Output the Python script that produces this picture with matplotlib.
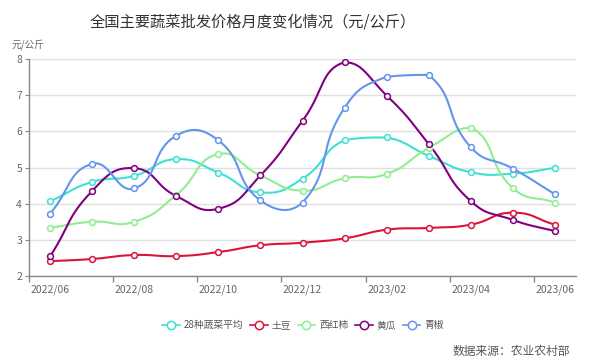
import numpy as np
import matplotlib
matplotlib.use("Agg")
import matplotlib.pyplot as plt
from matplotlib.lines import Line2D

plt.rcParams['font.family'] = ['Noto Sans CJK SC', 'DejaVu Sans']

months = ["2022/06", "2022/07", "2022/08", "2022/09", "2022/10", "2022/11", "2022/12",
          "2023/01", "2023/02", "2023/03", "2023/04", "2023/05", "2023/06"]
avg28 = [4.06, 4.60, 4.77, 5.23, 4.86, 4.31, 4.69, 5.76, 5.83, 5.32, 4.87, 4.83, 4.99]
potato = [2.41, 2.47, 2.58, 2.55, 2.66, 2.85, 2.92, 3.04, 3.28, 3.33, 3.42, 3.75, 3.42]
tomato = [3.33, 3.50, 3.50, 4.24, 5.37, 4.78, 4.36, 4.70, 4.82, 5.54, 6.10, 4.43, 4.03]
cucumber = [2.54, 4.35, 4.98, 4.21, 3.86, 4.78, 6.29, 7.91, 6.99, 5.65, 4.07, 3.55, 3.24]
pepper = [3.72, 5.10, 4.42, 5.88, 5.75, 4.09, 4.03, 6.65, 7.51, 7.56, 5.56, 4.97, 4.26]

series_names = ["28种蔬菜平均", "土豆", "西红柿", "黄瓜", "青椒"]
series_vals = [avg28, potato, tomato, cucumber, pepper]
colors = ["#40E0D0", "#DC143C", "#90EE90", "#800080", "#6495ED"]


def smooth_curve(xs, ys, sx=42.0, sy=36.2, smooth=0.5, n=30):
    # echarts-like bezier smoothing with bounding-box constraint on control points
    P = np.column_stack([np.asarray(xs, float) * sx, np.asarray(ys, float) * sy])
    m = len(P)
    lo = P.min(axis=0)
    hi = P.max(axis=0)
    cp_in, cp_out = [], []
    for i in range(m):
        prev = P[i - 1] if i > 0 else P[i]
        nxt = P[i + 1] if i < m - 1 else P[i]
        v = (nxt - prev) * smooth
        d0 = np.linalg.norm(P[i] - prev)
        d1 = np.linalg.norm(P[i] - nxt)
        s = d0 + d1
        if s > 0:
            d0 /= s
            d1 /= s
        c0 = np.clip(P[i] - v * d0, lo, hi)
        c1 = np.clip(P[i] + v * d1, lo, hi)
        cp_in.append(c0)
        cp_out.append(c1)
    t = np.linspace(0, 1, n)[:, None]
    pts = []
    for i in range(m - 1):
        p0, p1, p2, p3 = P[i], cp_out[i], cp_in[i + 1], P[i + 1]
        b = (1 - t) ** 3 * p0 + 3 * (1 - t) ** 2 * t * p1 + 3 * (1 - t) * t ** 2 * p2 + t ** 3 * p3
        pts.append(b)
    pts = np.vstack(pts)
    return pts[:, 0] / sx, pts[:, 1] / sy


fig = plt.figure(figsize=(6.01, 3.62), dpi=100)
ax = fig.add_axes([29 / 601, 1 - 276 / 362, (576 - 29) / 601, (276 - 59) / 362])

x = np.arange(len(months))
for name, vals, c in zip(series_names, series_vals, colors):
    cx, cy = smooth_curve(x, vals)
    ax.plot(cx, cy, color=c, lw=1.5, zorder=3, solid_capstyle='round')
    ax.plot(x, vals, ls='none', marker='o', ms=4.2, mfc='white', mec=c, mew=1.1, zorder=4)

ax.set_xlim(-0.5, len(months) - 0.5)
ax.set_ylim(2, 8)
ax.set_yticks(range(2, 9))
ax.yaxis.grid(True, color='#e0e0e0', lw=1)
ax.set_axisbelow(True)

ax.set_xticks(x[::2])
ax.set_xticklabels(months[::2])
ax.set_xticks(np.arange(-0.5, len(months), 2), minor=True)
ax.tick_params(axis='x', which='major', length=0, pad=6, labelsize=7.5, colors='#666666')
ax.tick_params(axis='x', which='minor', length=4, color='#888888', width=1)
ax.tick_params(axis='y', length=3, color='#888888', labelsize=7.5, colors='#666666', pad=2)

for s in ['top', 'right']:
    ax.spines[s].set_visible(False)
ax.spines['left'].set_color('#888888')
ax.spines['bottom'].set_color('#888888')
ax.spines['left'].set_linewidth(1)
ax.spines['bottom'].set_linewidth(1)

fig.text(253 / 601, 1 - 22 / 362, "全国主要蔬菜批发价格月度变化情况（元/公斤）",
         ha='center', va='center', fontsize=11, color='#333333')
fig.text(12 / 601, 1 - 45 / 362, "元/公斤", ha='left', va='center', fontsize=7, color='#666666')

handles = [Line2D([0], [0], color=c, lw=1.2, marker='o', ms=6, mfc='white', mec=c, mew=1.1)
           for c in colors]
leg = fig.legend(handles, series_names, loc='center', bbox_to_anchor=(303 / 601, 1 - 325 / 362),
                 ncol=5, frameon=False, fontsize=7, handlelength=1.8, handletextpad=0.4,
                 columnspacing=0.7, labelcolor='#555555')

fig.text(570 / 601, 1 - 351 / 362, "数据来源：农业农村部", ha='right', va='center',
         fontsize=8.5, color='#555555', style='italic')

fig.savefig("out.png", dpi=100)
